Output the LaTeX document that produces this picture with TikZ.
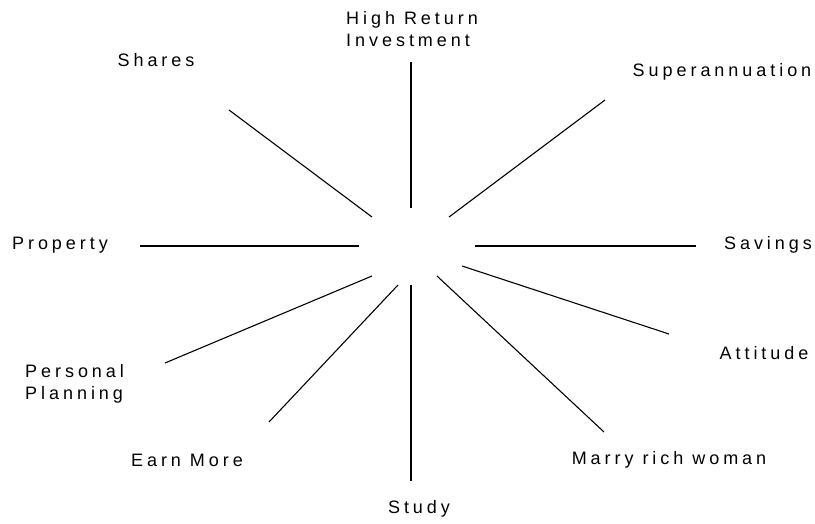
\documentclass[tikz,border=0pt]{standalone}
\usepackage{fontspec}
\setmainfont{Liberation Sans}[LetterSpace=22]
\usetikzlibrary{positioning}
\tikzset{
  lbl/.style={inner sep=0pt,font=\fontsize{18}{22}\selectfont,align=center},
  lbll/.style={lbl,align=left,anchor=west},
  spoke/.style={draw=black,line width=1.1pt},
}
\begin{document}
\begin{tikzpicture}[x=1pt,y=-1pt]
  \useasboundingbox (0,0) rectangle (815,523);
  % labels round the wheel
  \node[lbll] (hri) at (346,29) {High Return\\Investment};
  \node[lbl] (shares) at (156,60) {Shares};
  \node[lbl] (super) at (722,72) {Superannuation};
  \node[lbl] (property) at (60,245) {Property};
  \node[lbl] (savings) at (768,245) {Savings};
  \node[lbl] (attitude) at (764,353) {Attitude};
  \node[lbll] (planning) at (25,384) {Personal\\Planning};
  \node[lbl] (earn) at (187,460) {Earn More};
  \node[lbl] (marry) at (669,460) {Marry rich woman};
  \node[lbl] (study) at (419,509) {Study};
  % spoke ends, inner and outer
  \coordinate (hriA) at (411,208);   \coordinate (hriB) at (411,62);
  \coordinate (sharesA) at (372,217); \coordinate (sharesB) at (229,110);
  \coordinate (superA) at (449,217);  \coordinate (superB) at (605,100);
  \coordinate (propA) at (359,246);   \coordinate (propB) at (140,246);
  \coordinate (savA) at (475,246);    \coordinate (savB) at (696,246);
  \coordinate (attA) at (462,266);    \coordinate (attB) at (669,334);
  \coordinate (marryA) at (437,276);  \coordinate (marryB) at (604,432);
  \coordinate (studyA) at (411,285);  \coordinate (studyB) at (411,481);
  \coordinate (earnA) at (398,285);   \coordinate (earnB) at (269,422);
  \coordinate (planA) at (372,276);   \coordinate (planB) at (165,363);
  % spokes
  \foreach \s in {hri,shares,super,prop,sav,att,marry,study,earn,plan}
    \draw[spoke] (\s A) -- (\s B);
\end{tikzpicture}
\end{document}
